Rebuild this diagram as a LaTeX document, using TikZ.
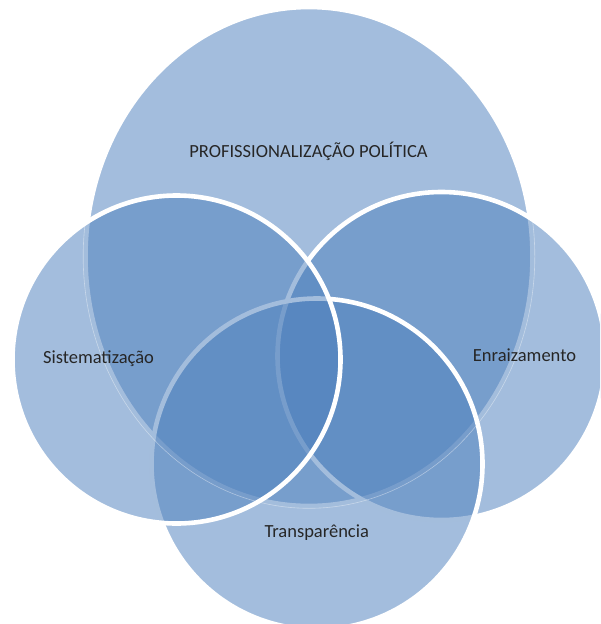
\documentclass[tikz,border=0pt]{standalone}
\usepackage{fontspec}
\setmainfont{Carlito}
\definecolor{vennblue}{HTML}{4F81BD}
\definecolor{labeltext}{HTML}{262626}
\begin{document}
\begin{tikzpicture}[x=1pt,y=-1pt,
  venn/.style={fill=vennblue, fill opacity=0.52, draw=white, draw opacity=1, line width=4.6pt},
  seam/.style={draw=white, draw opacity=0.4, line width=0.6pt},
  lbl/.style={text=labeltext, font=\fontsize{18.5}{22}\selectfont, anchor=base, inner sep=0pt}]
\useasboundingbox (0,0) rectangle (600,624);
\clip (0,0) rectangle (600,624);
% four overlapping sets, drawn back to front
\draw[venn] (309,256.5) ellipse [x radius=223.5pt, y radius=249.5pt];
\draw[venn] (441.5,356) circle [radius=164pt];
\draw[venn] (317,464) circle [radius=165.5pt];
\draw[venn] (176.5,359.5) circle [radius=164pt];
% faint rim of the large set showing through the others
\draw[seam] (309,256.5) ellipse [x radius=225.8pt, y radius=251.8pt];
% set labels
\node[lbl] (prof) at (308.5,157.3) {PROFISSIONALIZAÇÃO POLÍTICA};
\node[lbl] (sist) at (98.5,363) {Sistematização};
\node[lbl] (enra) at (524.5,361.7) {Enraizamento};
\node[lbl] (tran) at (316.7,537) {Transparência};
\end{tikzpicture}
\end{document}
